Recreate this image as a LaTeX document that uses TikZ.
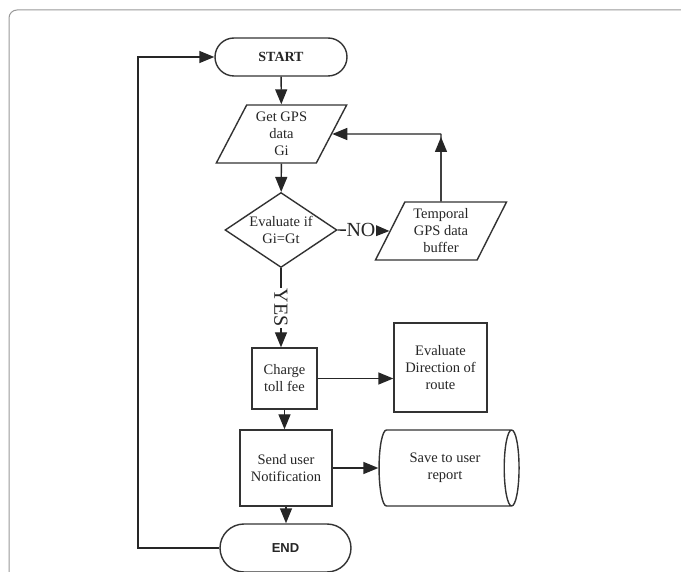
\documentclass[tikz,border=0pt]{standalone}
\usepackage{fontspec}
\setmainfont{Liberation Serif}
\newfontfamily\sansfont{Liberation Sans}
\usetikzlibrary{shapes.geometric,shapes.misc,arrows.meta,calc}
\begin{document}
\begin{tikzpicture}[x=1pt,y=-1pt,
  every node/.style={font=\fontsize{14.5}{17}\selectfont, align=center, text=black!85},
  shp/.style={draw=black!80, line width=1.4pt, inner sep=0pt},
  box/.style={shp, rectangle},
  term/.style={shp, rounded rectangle, minimum width=132pt},
  para/.style={shp, trapezium, trapezium left angle=63, trapezium right angle=117, trapezium stretches=true},
  dec/.style={shp, diamond, shape aspect=1.5, minimum width=112pt, minimum height=75pt},
  conn/.style={draw=black!85, line width=1.4pt},
  arr/.style={conn, -{Triangle[length=15pt,width=12pt]}},
  lbl/.style={fill=white, inner sep=1pt, font=\fontsize{20}{20}\selectfont}
]
\useasboundingbox (0,0) rectangle (681,572);
\clip (0,0) rectangle (681,572);
\fill[white] (0,0) rectangle (681,572);
\draw[black!40, line width=1pt, rounded corners=8pt] (9,10) rectangle (720,640);

\node[term, minimum height=38pt, font=\fontsize{14}{17}\selectfont\bfseries] (start) at (281,57) {START};
\node[para, minimum width=131pt, minimum height=58pt] (gps) at (281.5,134) {Get GPS\\data\\Gi};
\node[dec] (diam) at (281,230) {Evaluate if\\Gi=Gt};
\node[para, minimum width=132pt, minimum height=58pt] (buf) at (441,231) {Temporal\\GPS data\\buffer};
\node[box, minimum width=65pt, minimum height=61pt] (charge) at (284.5,378.5) {Charge\\toll fee};
\node[box, minimum width=93pt, minimum height=89pt] (eval) at (440.5,367.5) {Evaluate\\Direction of\\route};
\node[box, minimum width=92pt, minimum height=76pt] (send) at (286,468) {Send user\\Notification};
\node[shp, cylinder, aspect=0.5, minimum width=76pt, minimum height=140pt] (save) at (445,468) {Save to user\\report};
\node[term, minimum width=131pt, minimum height=48pt, font=\fontsize{13}{15}\selectfont\sansfont\bfseries] (end) at (285.5,548) {END};

\coordinate (lb) at (138,548);
\coordinate (lt) at (138,57);
\coordinate (fb) at (441,134);

\draw[arr] (start) -- (gps);
\draw[arr] (gps) -- (diam);
\draw[arr] (diam.east) -- node[lbl, pos=0.45] {NO} (buf.west);
\draw[conn] (buf.north) -- (fb);
\draw[arr] (buf.north) -- ([yshift=-3pt]fb);
\draw[arr] (fb) -- (gps.east);
\draw[arr] (diam.south) -- node[lbl, rotate=-90] {YES} (diam.south |- charge.north);
\draw[arr] (charge.east) -- (charge.east -| eval.west);
\draw[arr] (charge.south) -- (charge.south |- send.north);
\draw[arr] (send.east) -- (save.west);
\draw[arr] (send.south) -- (send.south |- end.north);
\draw[arr] (end.west) -- (lb) -- (lt) -- (start.west);
\end{tikzpicture}
\end{document}
